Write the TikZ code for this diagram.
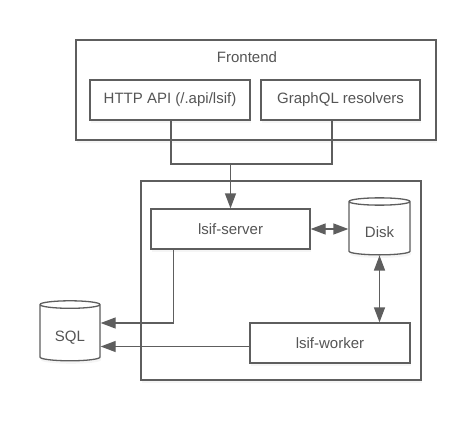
\documentclass[tikz,border=0pt]{standalone}
\usepackage{fontspec}
\setmainfont{Liberation Sans}
\usetikzlibrary{arrows.meta,shapes.geometric,shadows}
\definecolor{linegray}{HTML}{5E5E5E}
\definecolor{textgray}{HTML}{555555}
\tikzset{
    box/.style={draw=linegray, fill=white, line width=1.3pt, text=textgray, inner sep=0pt,
                drop shadow={opacity=0.08, shadow xshift=1pt, shadow yshift=-3pt}},
    store/.style={box, cylinder, shape border rotate=90, aspect=0.25},
    link/.style={draw=linegray, line width=1.3pt},
    tip/.style={link, -{Triangle[length=15pt,width=11pt]}},
    both/.style={link, {Triangle[length=15pt,width=11pt]}-{Triangle[length=15pt,width=11pt]}},
}

\begin{document}
\begin{tikzpicture}[x=1pt, y=-1pt, font=\fontsize{15}{18}\selectfont]
    \useasboundingbox (0,0) rectangle (476,420);

    % Frontend
    \node[box, minimum width=360pt, minimum height=100pt] (frontend) at (256,90) {};
    \node[text=textgray] (frontendlabel) at (247,57) {Frontend};
    \node[box, minimum width=160pt, minimum height=40pt] (http) at (170,100) {HTTP API (/.api/lsif)};
    \node[box, minimum width=159pt, minimum height=40pt] (graphql) at (340.5,100) {GraphQL resolvers};

    % Backend
    \node[box, minimum width=280pt, minimum height=199pt] (backend) at (281,280.5) {};
    \node[box, minimum width=159pt, minimum height=40pt] (server) at (230.5,229) {lsif-server};
    \node[box, minimum width=160pt, minimum height=40pt] (worker) at (330,343) {lsif-worker};

    % Stores
    \node[store, minimum width=61pt, minimum height=57pt] (disk) at (379.5,228.5) {\raisebox{-4pt}[\height][\depth]{Disk}};
    \node[store, minimum width=60pt, minimum height=60pt] (sql) at (70,333) {\raisebox{-5pt}[\height][\depth]{SQL}};

    % Connectors
    \coordinate (join) at (230.5,164);
    \draw[link] ([xshift=1pt]http.south) |- (join) -| ([xshift=-8.5pt]graphql.south);
    \draw[tip] (join) -- (server.north);
    \draw[both] (server.east) -- (server.east -| disk.west);
    \draw[both] (disk.south) -- (disk.south |- worker.north);
    \draw[tip] ([xshift=23pt]server.south west) |- ([yshift=10pt]sql.east);
    \draw[tip] ([yshift=-3.5pt]worker.west) -- ([yshift=-3.5pt]worker.west -| sql.east);
\end{tikzpicture}
\end{document}
